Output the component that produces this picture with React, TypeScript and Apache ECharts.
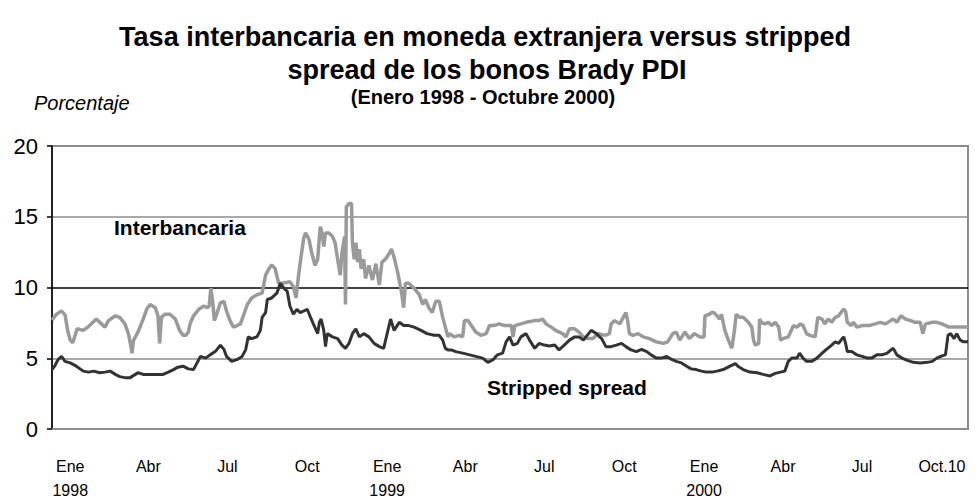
import React, { useEffect, useRef } from "react";
import * as echarts from "echarts";

// Daily categories from 1997-12-11 to 2000-10-31
const startDate = "1997-12-11";
const dayCount = 1056;

const tickDates = [
  "1998-01-01", "1998-04-01", "1998-07-01", "1998-10-01",
  "1999-01-01", "1999-04-01", "1999-07-01", "1999-10-01",
  "2000-01-01", "2000-04-01", "2000-07-01", "2000-10-01",
];
const tickLabels = [
  "Ene\n1998", "Abr", "Jul", "Oct",
  "Ene\n1999", "Abr", "Jul", "Oct",
  "Ene\n2000", "Abr", "Jul", "Oct.10",
];

const yTicks = [0, 5, 10, 15, 20];

// [day index from startDate, percent]
const interbancaria: [number, number][] = [
  [0,7.7],[5,8.1],[11,8.35],[15,8.07],[18,6.97],[21,6.28],[24,6.1],[26,6.5],[29,7.08],[36,6.97],[42,7.24],[48,7.59],[51,7.77],[57,7.43],[61,7.2],[65,7.66],[73,8.0],[78,7.89],[84,7.43],[88,6.74],[91,5.82],[92,5.36],[94,6.28],[99,6.85],[105,7.77],[109,8.46],[113,8.8],[119,8.57],[122,8.0],[124,6.05],[126,7.89],[130,8.11],[136,8.11],[142,7.77],[147,6.97],[151,6.62],
  [154,6.62],[157,6.85],[159,7.43],[163,8.0],[169,8.46],[175,8.69],[179,8.57],[181,8.69],[183,9.95],[185,9.03],[187,7.66],[189,8.0],[194,8.92],[198,9.03],[201,8.34],[205,7.66],[209,7.2],[213,7.31],[217,7.43],[221,8.11],[225,8.8],[230,9.26],[236,9.49],[242,9.6],[246,10.87],[250,11.33],[253,11.6],[257,11.33],[261,10.3],[265,10.3],[271,10.37],[274,10.41],[278,10.07],[281,9.26],[284,10.87],[287,12.25],[290,13.5],[292,13.86],[296,13.4],[299,12.48],[303,11.56],
  [306,12.0],[308,13.6],[309,14.3],[311,13.86],[313,12.9],[315,13.86],[319,13.86],[323,13.6],[326,13.17],[329,12.0],[332,10.87],[334,12.48],[337,13.6],[338,8.8],[339,15.7],[342,15.93],[345,15.93],[346,13.17],[348,12.0],[350,13.17],[352,11.79],[354,12.71],[356,11.33],[359,12.0],[361,10.64],[365,11.56],[369,10.53],[373,11.68],[377,10.18],[380,11.79],[384,12.0],[388,12.37],[391,12.71],[394,12.14],[398,11.1],[401,10.18],[403,9.49],[405,8.57],[407,10.3],[411,10.3],[417,9.95],[423,9.49],[427,8.8],[430,9.15],[434,8.57],[438,8.23],[442,9.03],[446,9.03],[450,7.89],[453,7.2],[456,6.51],
  [458,6.74],[463,6.51],[469,6.62],[473,6.51],[475,7.66],[479,7.66],[483,7.31],[488,6.85],[494,6.62],[500,6.74],[504,7.31],[509,7.31],[515,7.43],[521,7.31],[529,7.31],[531,6.51],[533,7.31],[540,7.43],[546,7.54],[556,7.66],[561,7.66],[565,7.77],[569,7.43],[575,7.2],[580,6.97],[588,6.74],[592,6.51],[596,7.08],[602,7.08],[607,6.85],
  [612,6.51],[617,6.39],[623,6.39],[629,6.74],[637,6.62],[642,6.74],[644,7.43],[648,7.66],[654,7.43],[658,7.89],[661,8.23],[663,7.66],[665,6.74],[669,6.62],[675,6.74],[681,6.51],[688,6.39],[696,6.16],[704,6.05],[709,6.16],[715,6.74],[719,6.85],[723,6.28],[729,6.85],[734,6.39],[740,6.74],[746,6.51],[751,6.51],[752,8.0],[757,8.11],[760,8.23],
  [762,8.23],[766,8.0],[769,7.77],[771,8.11],[775,6.97],[779,6.28],[783,5.7],[786,6.97],[788,8.11],[792,7.89],[796,7.89],[802,7.54],[806,7.2],[808,6.28],[810,5.93],[814,6.05],[815,7.77],[817,7.54],[821,7.43],[825,7.54],[829,7.31],[833,7.54],[837,7.2],[839,6.28],[842,6.39],[848,6.51],[854,7.31],[858,7.2],[862,7.43],[865,7.31],[869,6.74],[873,6.62],[879,6.51],[882,7.89],[887,7.77],[890,7.43],[894,7.77],[898,7.54],[902,7.89],[906,8.0],[910,8.34],[912,8.46],
  [914,8.3],[916,7.54],[920,7.31],[923,7.54],[927,7.2],[933,7.31],[941,7.31],[948,7.43],[954,7.54],[960,7.43],[966,7.66],[969,7.77],[973,7.54],[978,8.0],[983,7.77],[989,7.66],[994,7.54],[1000,7.54],[1003,6.74],[1006,7.43],[1014,7.54],[1019,7.54],[1025,7.43],[1033,7.2],[1040,7.2],[1048,7.2],[1055,7.2],
];

const strippedSpread: [number, number][] = [
  [0,4.2],[3,4.44],[7,4.9],[11,5.13],[15,4.78],[21,4.67],[28,4.44],[36,4.09],[42,4.02],[48,4.09],[55,3.98],[61,4.02],[67,4.09],[73,3.86],[78,3.7],[84,3.63],[90,3.63],[96,3.86],[99,3.98],[105,3.86],[113,3.86],[121,3.86],[128,3.86],[134,4.02],[140,4.2],[145,4.37],[151,4.44],
  [157,4.25],[163,4.2],[167,4.67],[171,5.13],[177,5.01],[182,5.24],[188,5.47],[194,5.93],[198,5.63],[201,5.13],[207,4.78],[213,4.9],[219,5.13],[223,5.59],[226,6.51],[230,6.39],[236,6.51],[240,6.97],[242,7.89],[246,8.23],[248,9.15],[253,9.26],[259,9.6],[263,10.3],[267,9.95],[271,9.72],[274,8.69],[278,8.11],[282,8.46],[286,8.23],[290,8.34],[294,8.46],[297,8.0],[301,7.43],
  [306,6.74],[308,7.54],[310,7.77],[313,6.97],[315,5.82],[317,6.74],[323,6.51],[329,6.39],[334,5.93],[338,5.7],[342,6.05],[346,6.74],[350,7.08],[354,6.51],[359,6.74],[365,6.51],[371,6.05],[377,5.82],[382,5.7],[386,6.74],[390,7.77],[394,6.97],[400,7.54],[405,7.31],[411,7.31],[417,7.2],[425,6.97],[432,6.74],[440,6.62],[446,6.62],[450,6.28],[453,5.7],[456,5.59],
  [460,5.59],[465,5.47],[473,5.36],[481,5.24],[488,5.13],[496,5.01],[502,4.71],[508,4.9],[513,5.24],[519,5.36],[523,6.16],[527,6.51],[531,5.93],[536,6.05],[540,6.51],[546,6.74],[550,6.28],[556,5.7],[561,6.05],[567,5.93],[573,5.86],[579,5.93],[584,5.59],[590,5.93],[596,6.28],[602,6.51],[607,6.51],
  [612,6.28],[615,6.51],[621,6.97],[627,6.74],[633,6.39],[638,5.82],[644,5.82],[650,5.93],[656,6.05],[661,5.82],[667,5.59],[673,5.47],[679,5.63],[685,5.47],[690,5.24],[696,5.01],[702,5.01],[708,5.13],[713,4.94],[719,4.78],[725,4.67],[731,4.44],[736,4.25],[742,4.2],[748,4.09],[754,4.02],[760,4.02],
  [766,4.09],[773,4.2],[781,4.44],[787,4.62],[790,4.44],[796,4.2],[804,4.02],[812,3.98],[819,3.86],[827,3.75],[833,3.93],[839,4.02],[844,4.09],[848,4.78],[852,5.01],[858,5.01],[861,5.36],[865,5.01],[869,4.78],[875,4.78],[881,5.01],[887,5.36],[892,5.63],[898,5.93],[902,6.16],[906,6.05],[910,6.39],[912,6.51],
  [914,6.05],[916,5.47],[921,5.47],[927,5.24],[933,5.13],[939,5.01],[944,5.01],[950,5.24],[956,5.24],[962,5.36],[967,5.63],[969,5.7],[973,5.24],[979,5.01],[985,4.85],[992,4.71],[1000,4.67],[1008,4.71],[1014,4.78],[1019,5.01],[1025,5.17],[1029,5.24],[1032,6.62],[1035,6.74],[1039,6.39],[1042,6.74],[1046,6.28],[1050,6.16],[1055,6.16],
];

function buildCategories(): string[] {
  const out: string[] = [];
  const [y, m, d] = startDate.split("-").map(Number);
  const t0 = Date.UTC(y, m - 1, d);
  for (let i = 0; i < dayCount; i++) {
    out.push(new Date(t0 + i * 86400000).toISOString().slice(0, 10));
  }
  return out;
}

const FONT = "'Liberation Sans', Arial, Helvetica, sans-serif";

export default function App() {
  const ref = useRef<HTMLDivElement>(null);
  useEffect(() => {
    if (!ref.current) return;
    const chart = echarts.init(ref.current, undefined, { renderer: "svg" });
    const categories = buildCategories();
    chart.setOption({
      animation: false,
      backgroundColor: "#ffffff",
      textStyle: { fontFamily: FONT },
      grid: {
        left: 52,
        right: 7,
        top: 146,
        bottom: 66,
        show: true,
        borderColor: "#8c8c8c",
        borderWidth: 2,
      },
      xAxis: {
        type: "category",
        data: categories,
        boundaryGap: false,
        axisLine: { lineStyle: { color: "#8c8c8c", width: 2 } },
        axisTick: { show: false },
        splitLine: { show: false },
        axisLabel: {
          interval: (_i: number, v: string) => tickDates.includes(v),
          formatter: (v: string) => {
            const k = tickDates.indexOf(v);
            return k >= 0 ? tickLabels[k] : "";
          },
          fontFamily: FONT,
          fontSize: 16,
          color: "#000",
          lineHeight: 24,
          margin: 25,
        },
      },
      yAxis: {
        type: "value",
        min: yTicks[0],
        max: yTicks[yTicks.length - 1],
        interval: 5,
        axisLine: { show: true, lineStyle: { color: "#000", width: 1.5 } },
        axisTick: { show: true, length: 5, lineStyle: { color: "#000", width: 1.5 } },
        axisLabel: { fontFamily: FONT, fontSize: 22, color: "#000", margin: 14 },
        splitLine: {
          show: true,
          lineStyle: { color: ["#8c8c8c", "#8c8c8c", "#000000", "#8c8c8c", "#8c8c8c"], width: 1.5 },
        },
      },
      series: [
        {
          name: "Interbancaria",
          type: "line",
          data: interbancaria,
          symbol: "none",
          lineStyle: { color: "#9a9a9a", width: 3.5 },
          z: 2,
        },
        {
          name: "Stripped spread",
          type: "line",
          data: strippedSpread,
          symbol: "none",
          lineStyle: { color: "#333333", width: 3 },
          z: 3,
        },
      ],
      graphic: [
        {
          type: "text",
          x: 485, y: 37,
          style: {
            text: "Tasa interbancaria en moneda extranjera versus stripped",
            font: `bold 27px ${FONT}`, fill: "#000", textAlign: "center", textVerticalAlign: "middle",
          },
        },
        {
          type: "text",
          x: 487, y: 70,
          style: {
            text: "spread de los bonos Brady PDI",
            font: `bold 27px ${FONT}`, fill: "#000", textAlign: "center", textVerticalAlign: "middle",
          },
        },
        {
          type: "text",
          x: 483, y: 97,
          style: {
            text: "(Enero 1998 - Octubre 2000)",
            font: `bold 20px ${FONT}`, fill: "#000", textAlign: "center", textVerticalAlign: "middle",
          },
        },
        {
          type: "text",
          x: 34, y: 103,
          style: {
            text: "Porcentaje",
            font: `italic 20px ${FONT}`, fill: "#000", textAlign: "left", textVerticalAlign: "middle",
          },
        },
        {
          type: "text",
          x: 114, y: 227,
          style: {
            text: "Interbancaria",
            font: `bold 21px ${FONT}`, fill: "#000", textAlign: "left", textVerticalAlign: "middle",
          },
        },
        {
          type: "text",
          x: 487, y: 387,
          style: {
            text: "Stripped spread",
            font: `bold 21px ${FONT}`, fill: "#000", textAlign: "left", textVerticalAlign: "middle",
          },
        },
      ],
    });
    return () => chart.dispose();
  }, []);
  return (
    <div
      ref={ref}
      style={{ position: "fixed", left: 0, top: 0, width: 975, height: 502, background: "#fff" }}
    />
  );
}
